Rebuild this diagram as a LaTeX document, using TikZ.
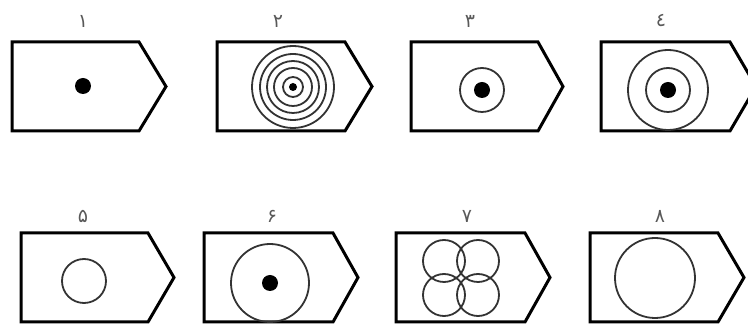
\documentclass[tikz,border=0pt]{standalone}
\usepackage{fontspec}
\newfontfamily\arabicfont[Script=Arabic]{DejaVu Sans}
\TeXXeTstate=1

\begin{document}
\begin{tikzpicture}[x=1pt, y=-1pt,
  plate/.style={draw, line width=3pt, line join=miter},
  ring/.style={draw=black!80, line width=1.8pt},
  dot/.style={fill=black},
  num/.style={font=\arabicfont\fontsize{19}{19}\selectfont, text=black!65, inner sep=0pt}
]
\useasboundingbox (0,0) rectangle (748,328);

% plates: left/top/body end/tip
\foreach \l/\t/\e/\p in {12/42/139/166, 217/42/345/372, 411/42/538/563, 601/42/730/756,
                         21/233/148/174, 204/233/333/358, 396/233/525/550, 590/233/718/744}
  \draw[plate] (\l,\t) -- (\e,\t) -- (\p,\t+44.5) -- (\e,\t+89) -- (\l,\t+89) -- cycle;

% numbers
\node[num] (n1) at (83,21)  {\beginR ١\endR};
\node[num] (n2) at (278,21) {\beginR ٢\endR};
\node[num] (n3) at (470,21) {\beginR ٣\endR};
\node[num] (n4) at (661,21) {\beginR ٤\endR};
\node[num] (n5) at (83,216) {\beginR ۵\endR};
\node[num] (n6) at (272,216) {\beginR ۶\endR};
\node[num] (n7) at (467,216) {\beginR ٧\endR};
\node[num] (n8) at (660,216) {\beginR ٨\endR};

% centres
\coordinate (c1) at (83,86);
\coordinate (c2) at (293,87);
\coordinate (c3) at (482,90);
\coordinate (c4) at (668,90);
\coordinate (c5) at (84,281);
\coordinate (c6) at (270,283);
\coordinate (c7) at (461,278);
\coordinate (c8) at (655,278);

\fill[dot] (c1) circle (8);

\foreach \r in {41,33,26,19,10}
  \draw[ring] (c2) circle (\r);
\fill[dot] (c2) circle (4);

\draw[ring] (c3) circle (22);
\fill[dot] (c3) circle (8);

\draw[ring] (c4) circle (40) (c4) circle (22);
\fill[dot] (c4) circle (8);

\draw[ring] (c5) circle (22);

\draw[ring] (c6) circle (39);
\fill[dot] (c6) circle (8);

\foreach \dx/\dy in {-17/-17, 17/-17, -17/17, 17/17}
  \draw[ring] ([shift={(\dx,\dy)}]c7) circle (21);

\draw[ring] (c8) circle (40);
\end{tikzpicture}
\end{document}
